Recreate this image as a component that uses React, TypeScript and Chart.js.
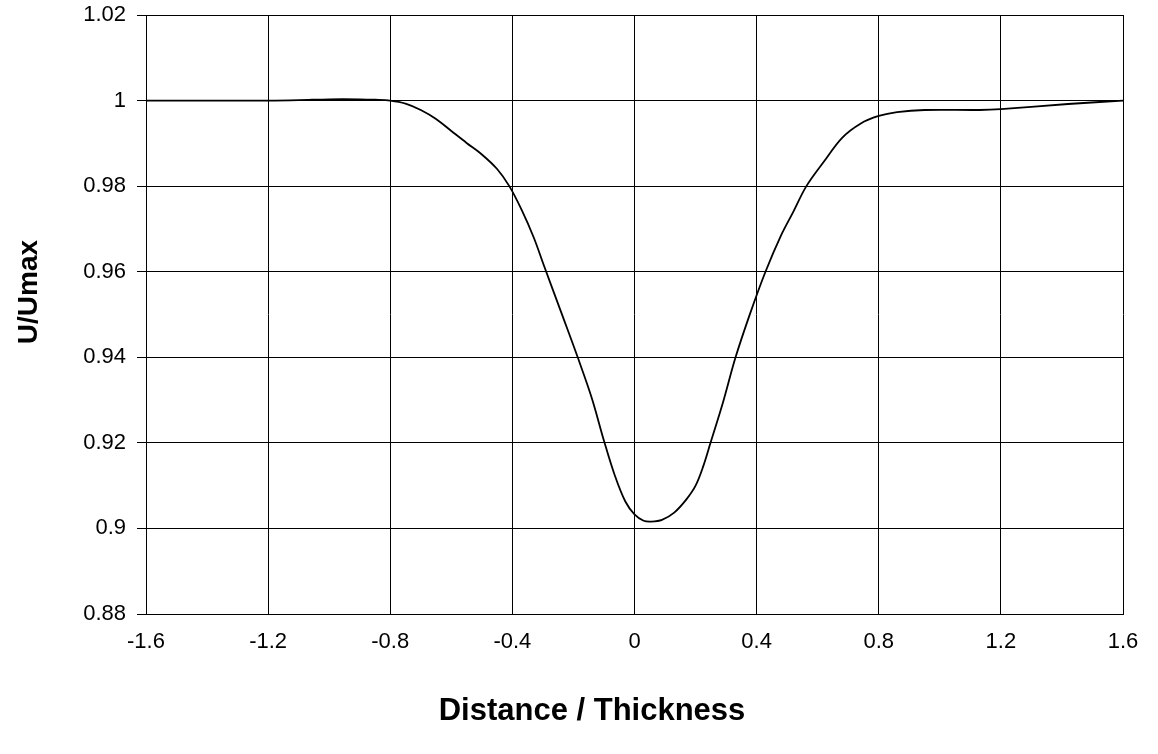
import React, { useEffect, useRef } from "react";
import { Chart, registerables } from "chart.js";

Chart.register(...registerables);

const distance = [
  -1.6, -1.4, -1.2, -1.1, -1.0, -0.9, -0.85, -0.8, -0.75, -0.7, -0.65, -0.6,
  -0.55, -0.5, -0.45, -0.41, -0.37, -0.33, -0.297, -0.24, -0.186, -0.14, -0.1,
  -0.065, -0.03, 0.0, 0.03, 0.055, 0.09, 0.13, 0.17, 0.2, 0.225, 0.249, 0.29,
  0.331, 0.38, 0.429, 0.48, 0.52, 0.563, 0.62, 0.68, 0.74, 0.8, 0.86, 0.95,
  1.13, 1.2, 1.42, 1.6,
];
const uRatio = [
  1.0, 1.0, 1.0, 1.0001, 1.0003, 1.0003, 1.0002, 1.0, 0.9993, 0.9978, 0.9957,
  0.9929, 0.9901, 0.9874, 0.984, 0.98, 0.9745, 0.968, 0.9615, 0.9505, 0.94,
  0.9305, 0.9205, 0.9125, 0.9063, 0.9033, 0.9018, 0.9016, 0.902, 0.9037,
  0.9068, 0.91, 0.9145, 0.92, 0.9295, 0.94, 0.9505, 0.96, 0.9685, 0.974, 0.98,
  0.9857, 0.9913, 0.9946, 0.9964, 0.9973, 0.9978, 0.9978, 0.998, 0.9992, 1.0,
];
const xTicks = [-1.6, -1.2, -0.8, -0.4, 0, 0.4, 0.8, 1.2, 1.6];
const yTicks = [0.88, 0.9, 0.92, 0.94, 0.96, 0.98, 1.0, 1.02];
const xTitle = "Distance / Thickness";
const yTitle = "U/Umax";

const FONT = "'Liberation Sans', Arial, sans-serif";

const axisTitles = {
  id: "axisTitles",
  afterDraw(chart: any) {
    const { ctx } = chart;
    ctx.save();
    ctx.fillStyle = "#000";
    ctx.textAlign = "center";
    ctx.textBaseline = "middle";
    ctx.font = `bold 31px ${FONT}`;
    ctx.fillText(xTitle, 592, 711);
    ctx.font = `bold 28px ${FONT}`;
    ctx.translate(29, 292);
    ctx.rotate(-Math.PI / 2);
    ctx.fillText(yTitle, 0, 0);
    ctx.restore();
  },
};

export default function App() {
  const ref = useRef<HTMLCanvasElement | null>(null);
  useEffect(() => {
    if (!ref.current) return;
    const chart = new Chart(ref.current, {
      type: "scatter",
      data: {
        datasets: [
          {
            data: distance.map((x, i) => ({ x, y: uRatio[i] })),
            showLine: true,
            borderColor: "#000",
            borderWidth: 1.8,
            pointRadius: 0,
            tension: 0.35,
            fill: false,
          },
        ],
      },
      plugins: [axisTitles],
      options: {
        animation: false,
        responsive: false,
        devicePixelRatio: 1,
        layout: { padding: { left: 0, right: 35, top: 15, bottom: 0 } },
        plugins: { legend: { display: false }, tooltip: { enabled: false } },
        scales: {
          x: {
            type: "linear",
            min: -1.6,
            max: 1.6,
            afterBuildTicks: (s: any) => {
              s.ticks = xTicks.map((v) => ({ value: v }));
            },
            afterFit: (s: any) => {
              s.height = 140;
              s.paddingLeft = 0;
              s.paddingRight = 0;
            },
            grid: { color: "#000", lineWidth: 1, drawTicks: false },
            border: { color: "#000", width: 1 },
            ticks: {
              color: "#000",
              padding: 15,
              maxRotation: 0,
              autoSkip: false,
              font: { family: FONT, size: 22 },
              callback: (v: any) => String(Number(Number(v).toFixed(2))),
            },
          },
          y: {
            type: "linear",
            min: 0.88,
            max: 1.02,
            afterBuildTicks: (s: any) => {
              s.ticks = yTicks.map((v) => ({ value: v }));
            },
            afterFit: (s: any) => {
              s.width = 146;
              s.paddingTop = 0;
              s.paddingBottom = 0;
            },
            grid: { color: "#000", lineWidth: 1, tickLength: 9 },
            border: { color: "#000", width: 1 },
            ticks: {
              color: "#000",
              padding: 11,
              autoSkip: false,
              font: { family: FONT, size: 22 },
              callback: (v: any) => String(Number(Number(v).toFixed(2))),
            },
          },
        },
      },
    });
    return () => chart.destroy();
  }, []);
  return (
    <div style={{ position: "absolute", left: 0, top: 0, width: 1158, height: 754, background: "#fff" }}>
      <canvas ref={ref} width={1158} height={754} style={{ width: 1158, height: 754, display: "block" }} />
    </div>
  );
}
